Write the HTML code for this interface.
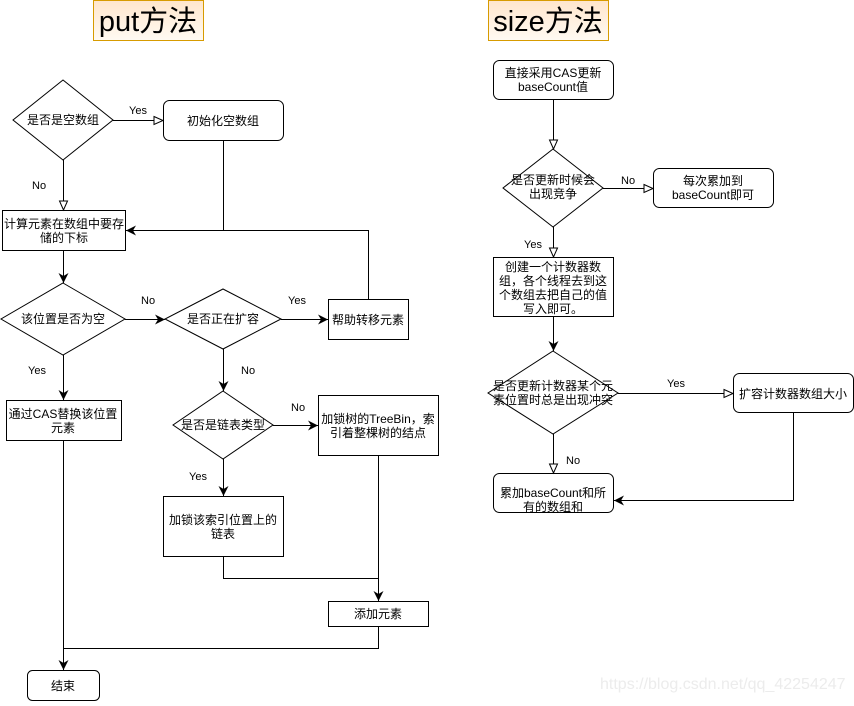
<!DOCTYPE html>
<html><head><meta charset="utf-8"><style>
html,body{margin:0;padding:0;background:#fff;}
svg text{font-family:"Liberation Sans","Noto Sans CJK SC",sans-serif;font-size:12px;fill:#000;}
</style></head><body>
<svg width="854" height="701" viewBox="0 0 854 701" xmlns="http://www.w3.org/2000/svg">
<defs>
<linearGradient id="g" x1="0" y1="0" x2="0" y2="1"><stop offset="0" stop-color="#ffe6cc"/><stop offset="1" stop-color="#fffaf3"/></linearGradient>
<marker id="h" markerWidth="12" markerHeight="10" refX="10" refY="5" orient="auto" markerUnits="userSpaceOnUse"><path d="M1,1 L10,5 L1,9 Z" fill="#fff" stroke="#000" stroke-width="1"/></marker>
<marker id="f" markerWidth="12" markerHeight="10" refX="10" refY="5" orient="auto" markerUnits="userSpaceOnUse"><path d="M0,0 L10,5 L0,10 L3,5 Z" fill="#000"/></marker>
</defs>
<g fill="#fff" stroke="#000" stroke-width="1">
<rect x="93.5" y="0.5" width="110" height="40" fill="url(#g)" stroke="#d79b00"/>
<rect x="488.5" y="0.5" width="120" height="40" fill="url(#g)" stroke="#d79b00"/>
<!-- left -->
<polygon points="63,80 113,120 63,160 13,120"/>
<rect x="163.5" y="100.5" width="120" height="40" rx="6"/>
<rect x="2.5" y="210.5" width="123" height="40"/>
<polygon points="63,283 125,319 63,355 1,319"/>
<polygon points="223,289 281,319 223,349 165,319"/>
<rect x="328.5" y="299.5" width="80" height="40"/>
<polygon points="223,391 273,425 223,459 173,425"/>
<rect x="318.5" y="395.5" width="120" height="60"/>
<rect x="6.5" y="400.5" width="115" height="40"/>
<rect x="163.5" y="496.5" width="120" height="60"/>
<rect x="328.5" y="601.5" width="100" height="25"/>
<rect x="27.5" y="670.5" width="72" height="30" rx="5"/>
<!-- right -->
<rect x="493.5" y="60.5" width="120" height="39" rx="6"/>
<polygon points="553,149 603,188 553,227 503,188"/>
<rect x="653.5" y="168.5" width="120" height="39" rx="6"/>
<rect x="493.5" y="257.5" width="120" height="59"/>
<polygon points="553,351 618,393 553,434 488,393"/>
<rect x="733.5" y="373.5" width="120" height="39" rx="6"/>
<rect x="493.5" y="473.5" width="120" height="39" rx="6"/>
</g>
<g fill="none" stroke="#000" stroke-width="1">
<path d="M113,120.5 H163" marker-end="url(#h)"/>
<path d="M63.5,160 V210" marker-end="url(#h)"/>
<path d="M223.5,140 V230.5 H126" marker-end="url(#f)"/>
<path d="M368.5,299 V230.5 H223"/>
<path d="M63.5,250 V283" marker-end="url(#f)"/>
<path d="M125,319.5 H165" marker-end="url(#f)"/>
<path d="M281,319.5 H328" marker-end="url(#f)"/>
<path d="M223.5,349 V391" marker-end="url(#f)"/>
<path d="M273,425.5 H318" marker-end="url(#f)"/>
<path d="M223.5,459 V496" marker-end="url(#f)"/>
<path d="M63.5,355 V400" marker-end="url(#f)"/>
<path d="M223.5,556 V578.5 H378.5"/>
<path d="M378.5,455 V601" marker-end="url(#f)"/>
<path d="M378.5,626 V648.5 H63.5"/>
<path d="M63.5,440 V670" marker-end="url(#f)"/>
<path d="M553.5,99 V149" marker-end="url(#h)"/>
<path d="M603,188.5 H653" marker-end="url(#h)"/>
<path d="M553.5,227 V257" marker-end="url(#h)"/>
<path d="M553.5,316 V351" marker-end="url(#f)"/>
<path d="M618,393.5 H733" marker-end="url(#h)"/>
<path d="M553.5,434 V473" marker-end="url(#h)"/>
<path d="M793.5,412 V500.5 H614" marker-end="url(#f)"/>
</g>
<g text-anchor="middle">
<text x="148" y="31" style="font-size:29px">put方法</text>
<text x="548" y="31" style="font-size:29px">size方法</text>
<text x="63" y="124">是否是空数组</text>
<text x="223" y="125">初始化空数组</text>
<text x="64" y="228">计算元素在数组中要存</text>
<text x="64" y="242">储的下标</text>
<text x="63" y="323">该位置是否为空</text>
<text x="223" y="323">是否正在扩容</text>
<text x="368" y="324">帮助转移元素</text>
<text x="223" y="429">是否是链表类型</text>
<text x="378" y="423">加锁树的TreeBin，索</text>
<text x="378" y="437">引着整棵树的结点</text>
<text x="63" y="418">通过CAS替换该位置</text>
<text x="63" y="432">元素</text>
<text x="223" y="524">加锁该索引位置上的</text>
<text x="223" y="538">链表</text>
<text x="378" y="618">添加元素</text>
<text x="63" y="690">结束</text>
<text x="553" y="77">直接采用CAS更新</text>
<text x="553" y="91">baseCount值</text>
<text x="553" y="184">是否更新时候会</text>
<text x="553" y="198">出现竞争</text>
<text x="713" y="185">每次累加到</text>
<text x="713" y="199">baseCount即可</text>
<text x="553" y="271">创建一个计数器数</text>
<text x="553" y="285">组，各个线程去到这</text>
<text x="553" y="299">个数组去把自己的值</text>
<text x="553" y="313">写入即可。</text>
<text x="553" y="390">是否更新计数器某个元</text>
<text x="553" y="404">素位置时总是出现冲突</text>
<text x="793" y="398">扩容计数器数组大小</text>
<text x="553" y="497">累加baseCount和所</text>
<text x="553" y="511">有的数组和</text>
</g>
<g style="font-size:11px">
<text x="129" y="114" style="font-size:11px">Yes</text>
<text x="32" y="189" style="font-size:11px">No</text>
<text x="141" y="304" style="font-size:11px">No</text>
<text x="288" y="304" style="font-size:11px">Yes</text>
<text x="241" y="374" style="font-size:11px">No</text>
<text x="291" y="411" style="font-size:11px">No</text>
<text x="189" y="480" style="font-size:11px">Yes</text>
<text x="28" y="374" style="font-size:11px">Yes</text>
<text x="621" y="184" style="font-size:11px">No</text>
<text x="524" y="248" style="font-size:11px">Yes</text>
<text x="667" y="387" style="font-size:11px">Yes</text>
<text x="566" y="464" style="font-size:11px">No</text>
</g>
<text x="600" y="689" style="font-size:16px;fill:#ececec">https://blog.csdn.net/qq_42254247</text>
</svg>
</body></html>
